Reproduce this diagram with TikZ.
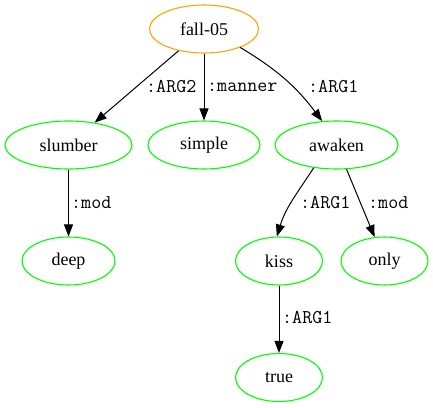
\documentclass[tikz,border=0pt]{standalone}
\usepackage{fontspec}
\setmainfont{Liberation Serif}
\usetikzlibrary{shapes.geometric,arrows.meta}
\definecolor{gvorange}{HTML}{FFA500}
\definecolor{gvgreen}{HTML}{00FF00}
\begin{document}
\begin{tikzpicture}[x=1pt,y=-1pt,
  concept/.style={ellipse,draw=gvgreen,line width=1.1pt,inner sep=0pt,minimum height=48pt,font=\fontsize{18}{21}\selectfont},
  root/.style={concept,draw=gvorange},
  lbl/.style={anchor=west,inner sep=0pt,font=\ttfamily\fontsize{19.5}{22}\selectfont},
  edge/.style={draw,line width=1pt,-{Triangle[length=12pt,width=9pt]}}]
\useasboundingbox (0,0) rectangle (433,407);
\node[root,minimum width=109pt] (fall) at (204,29) {fall-05};
\node[concept,minimum width=127pt] (slumber) at (68.5,145) {slumber};
\node[concept,minimum width=112pt] (simple) at (204,145) {simple};
\node[concept,minimum width=123pt] (awaken) at (336.5,145) {awaken};
\node[concept,minimum width=93pt] (deep) at (68.5,261) {deep};
\node[concept,minimum width=87pt] (kiss) at (279,261) {kiss};
\node[concept,minimum width=87pt] (only) at (384.5,261) {only};
\node[concept,minimum width=87pt] (true) at (279,377.5) {true};
\draw[edge] (fall) -- (slumber);
\draw[edge] (fall) -- (simple);
\draw[edge] (fall.-27) to[out=-31,in=127] (awaken.121);
\draw[edge] (slumber) -- (deep);
\draw[edge] (awaken.-135) to[out=-123,in=73] (kiss.95);
\draw[edge] (awaken) -- (only);
\draw[edge] (kiss) -- (true);
\node[lbl] (l1) at (146,87) {:ARG2};
\node[lbl] (l2) at (207,87) {:manner};
\node[lbl] (l3) at (308,87) {:ARG1};
\node[lbl] (l4) at (71,203) {:mod};
\node[lbl] (l5) at (300,203) {:ARG1};
\node[lbl] (l6) at (368,203) {:mod};
\node[lbl] (l7) at (282,318) {:ARG1};
\end{tikzpicture}
\end{document}
